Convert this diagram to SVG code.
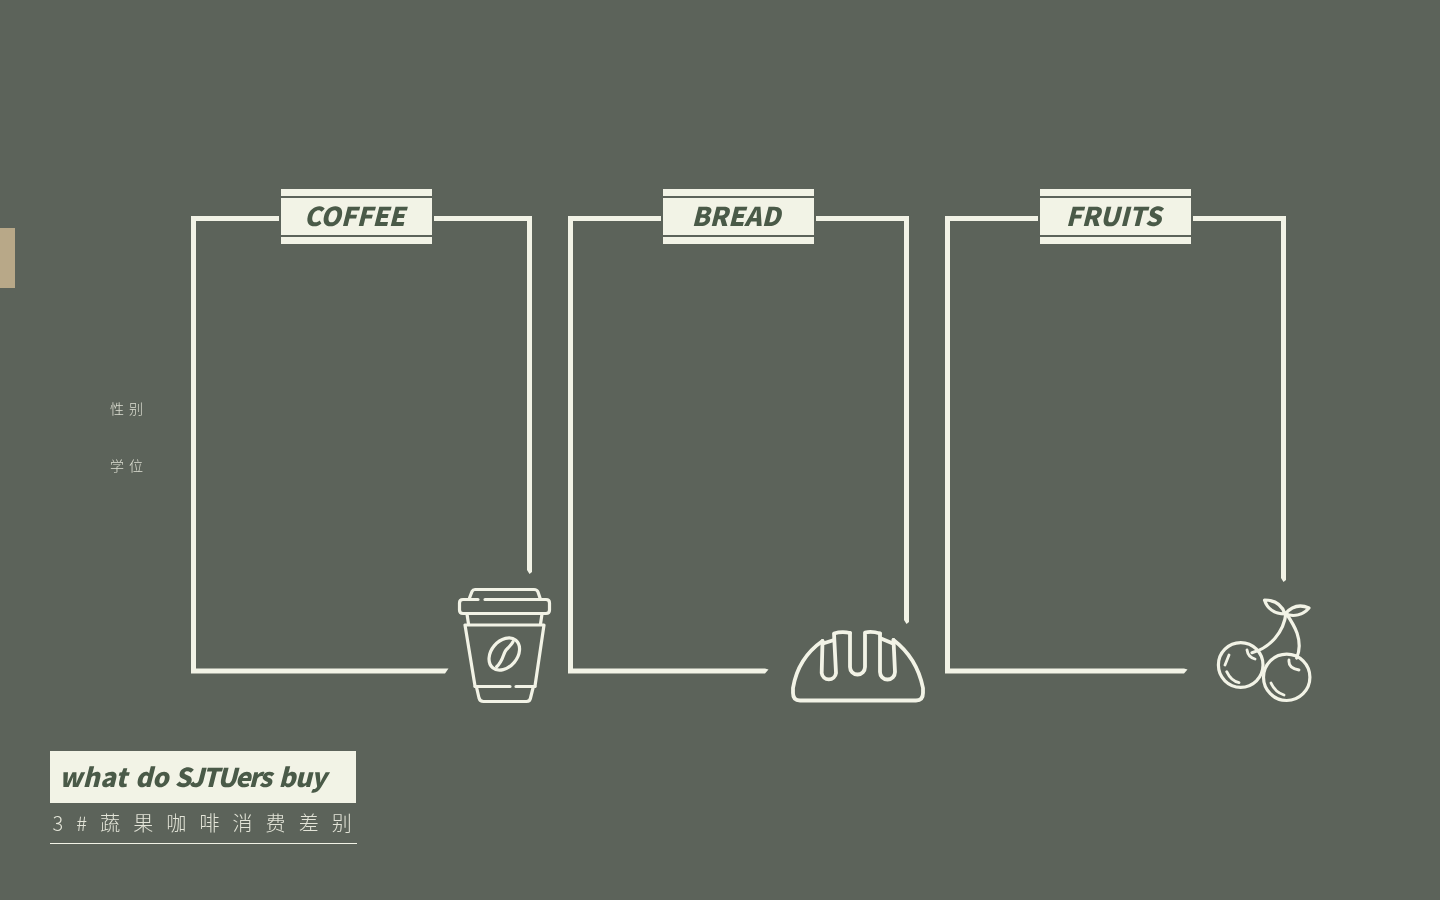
<svg xmlns="http://www.w3.org/2000/svg" width="1440" height="900" viewBox="0 0 1440 900">
<defs><filter id="gray" x="-5%" y="-20%" width="110%" height="140%" color-interpolation-filters="sRGB"><feOffset dx="0" dy="0"/></filter></defs>
<style>
.fr{fill:none;stroke:#f2f3e6;stroke-width:5}
.tip{fill:#f2f3e6}
.ic{fill:none;stroke:#f2f3e6;stroke-width:3.200;stroke-linecap:round;stroke-linejoin:round}
.ic2{fill:none;stroke:#f2f3e6;stroke-width:2.800;stroke-linecap:round;stroke-linejoin:round}
.plate{fill:#f2f3e6}
.rule{stroke:#5c635a;stroke-width:2}
.head{font-family:"Noto Sans CJK SC",sans-serif;font-weight:900;font-style:italic;font-size:26px;fill:#4a5a48;text-anchor:middle}
.cjk{font-family:"Noto Sans CJK SC",sans-serif;font-weight:300;fill:#f2f3e6}
</style>
<rect width="1440" height="900" fill="#5c635a"/>
<rect id="tab" x="0" y="228" width="15" height="60" fill="#b8a888"/>
<g id="side-labels" opacity="0.85" filter="url(#gray)">
<text class="cjk" x="110" y="414" font-size="14" letter-spacing="5">性别</text>
<text class="cjk" x="110" y="471" font-size="14" letter-spacing="5">学位</text>
</g>
<g id="connectors">
<path class="fr" d="M279 218.500H193.500V671H445"/><polygon class="tip" points="445,668.500 448.500,668.500 445,673.500"/>
<path class="fr" d="M434 218.500H529.500V570"/><polygon class="tip" points="527,570 532,570 532,572 529.500,574"/>
<path class="fr" d="M661 218.500H570.500V671H765"/><polygon class="tip" points="765,668.500 768.500,669.500 765,673.500"/>
<path class="fr" d="M816 218.500H906.500V620"/><polygon class="tip" points="904,620 909,620 909,622 906.500,624"/>
<path class="fr" d="M1038 218.500H947.500V671H1184"/><polygon class="tip" points="1184,668.500 1187.500,669.500 1184,673.500"/>
<path class="fr" d="M1193 218.500H1283.500V578"/><polygon class="tip" points="1281,578 1286,578 1286,580 1283.500,582"/>
</g>
<g id="coffee">
<rect class="plate" x="281" y="189" width="151" height="55"/>
<line class="rule" x1="281" y1="197" x2="432" y2="197"/><line class="rule" x1="281" y1="236" x2="432" y2="236"/>
<text class="head" x="354.500" y="226" filter="url(#gray)">COFFEE</text>
<g class="ic">
<path d="M469.500 598L472 591.500Q473 589.500 475 589.500H534Q537 589.500 538 592L540 598"/>
<path d="M478 599.500H463Q459.500 599.500 459.500 603V610Q459.500 613.500 463 613.500H546Q549.500 613.500 549.500 610V603Q549.500 599.500 546 599.500H485"/>
<path d="M467 614L468.500 624M542 614L540.500 624"/>
<path d="M465 625H544L535 686M465 625L475 686"/>
<path d="M475 686.500H510M516 686.500H535"/>
<path d="M476.700 688L479 698Q480 701.500 483.500 701.500H526.500Q530 701.500 530.500 698L533 688"/>
<ellipse cx="504.300" cy="654" rx="18" ry="13" transform="rotate(-50 504.300 654)"/>
<path d="M496.700 666.700C504 660 503 652 507 649C510 646 512 644 513 641.700"/>
</g>
</g>
<g id="bread">
<rect class="plate" x="663" y="189" width="151" height="55"/>
<line class="rule" x1="663" y1="197" x2="814" y2="197"/><line class="rule" x1="663" y1="236" x2="814" y2="236"/>
<text class="head" x="736" y="226" filter="url(#gray)">BREAD</text>
<g class="ic" style="stroke-width:3.800">
<path d="M822.500 641Q798 658 793 688V693Q793 700.500 800 700.500H916Q923 700.500 923 693V688Q917 658 893.500 640"/>
<path d="M822.500 641L821.700 673A7.200 7.200 0 0 0 836 673L834 633.500Q842 631 850 633"/>
<path d="M850 633V667A7.500 7.500 0 0 0 865 667V632.500Q872 631 880 633.500"/>
<path d="M880 633.500V672A7.500 7.500 0 0 0 895 672L893.500 640"/>
<path d="M823 643.500L834 640M881 638.500L893 643.500"/>
</g>
</g>
<g id="fruits">
<rect class="plate" x="1040" y="189" width="151" height="55"/>
<line class="rule" x1="1040" y1="197" x2="1191" y2="197"/><line class="rule" x1="1040" y1="236" x2="1191" y2="236"/>
<text class="head" x="1113.500" y="226" filter="url(#gray)">FRUITS</text>
<g class="ic">
<circle cx="1240.700" cy="665" r="22.300"/>
<circle cx="1286.700" cy="677.300" r="23.200"/>
<path d="M1286 613C1284 632 1270 648 1252 652.700"/>
<path d="M1286 613C1294 625 1304 640 1296.700 658"/>
<path d="M1285 614C1282 605 1275 600 1264.500 600C1267 608 1274 614 1285 614Z"/>
<path d="M1285 614C1292 606 1300 604 1309 608C1303 615 1294 617 1285 614Z"/>
</g>
<g class="ic2">
<path d="M1247 650Q1248 657 1255 659M1289 660Q1288 668 1299 670M1229 655L1225 665M1226.700 671.700Q1231 681 1239 682.700M1271 683Q1275 692 1284 695"/>
</g>
</g>
<g id="title">
<rect class="plate" x="50" y="751" width="306" height="52"/>
<text y="787" font-family="'Noto Sans CJK SC',sans-serif" font-weight="900" font-style="italic" font-size="26" fill="#4a5a48" filter="url(#gray)"><tspan x="59" letter-spacing="0.300">what </tspan><tspan x="135" letter-spacing="0">do </tspan><tspan x="174.500" letter-spacing="-1.800">SJTUers </tspan><tspan x="278.500" letter-spacing="-0.800">buy</tspan></text>
<text class="cjk" x="52.500" y="831" font-size="20" letter-spacing="13.100" opacity="0.9" filter="url(#gray)">3#蔬果咖啡消费差别</text>
<line x1="50" y1="843.500" x2="357" y2="843.500" stroke="#f2f3e6" stroke-width="1"/>
</g>
</svg>
